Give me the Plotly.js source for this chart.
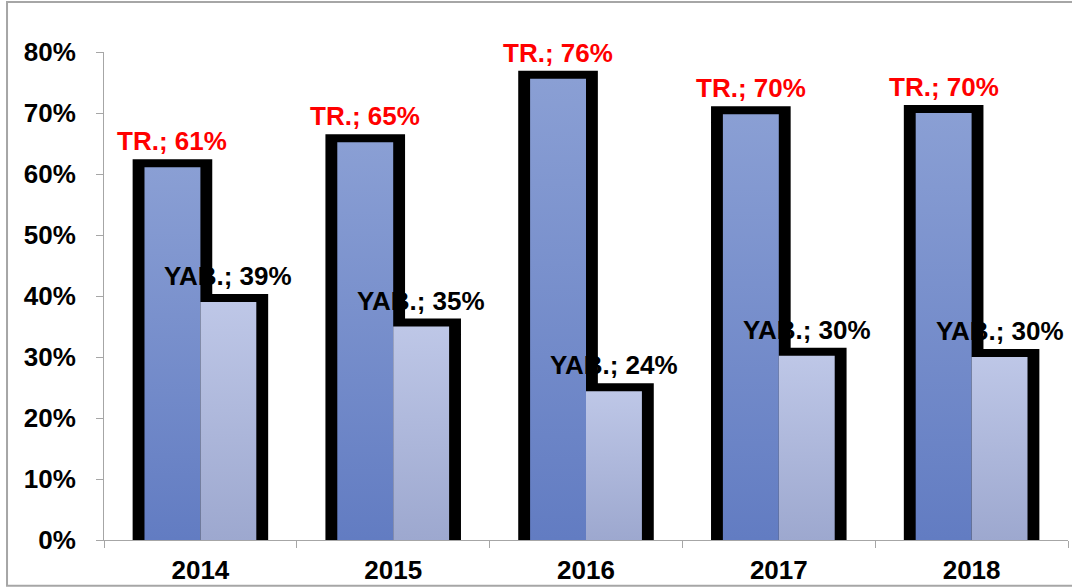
<!DOCTYPE html>
<html>
<head>
<meta charset="utf-8">
<script src="https://cdn.plot.ly/plotly-3.0.1.min.js"></script>
<style>
html,body{margin:0;padding:0;background:#fff;}
#chart{width:1072px;height:587px;}
</style>
</head>
<body>
<div id="chart"></div>
<script>
// ---- data ----
var years = ["2014", "2015", "2016", "2017", "2018"];
var trValues = [0.611, 0.652, 0.756, 0.698, 0.70];
var yabValues = [0.39, 0.35, 0.244, 0.302, 0.30];
var trName = "TR.";
var yabName = "YAB.";
var yTickVals = [0, 0.1, 0.2, 0.3, 0.4, 0.5, 0.6, 0.7, 0.8];

var FONT = "Liberation Sans, Arial, sans-serif";
var barW = 0.29;
var outlineExtra = 0.02;

function pct(v) { return Math.round(v * 100) + "%"; }

var traces = [
  { // TR outline
    type: "bar", x: years, y: trValues, name: trName + " outline",
    offset: -barW - outlineExtra, width: barW + 2 * outlineExtra,
    marker: { color: "#000", line: { color: "#000", width: 16 } },
    hoverinfo: "skip", showlegend: false
  },
  { // YAB outline
    type: "bar", x: years, y: yabValues, name: yabName + " outline",
    offset: -outlineExtra, width: barW + 2 * outlineExtra,
    marker: { color: "#000", line: { color: "#000", width: 16 } },
    hoverinfo: "skip", showlegend: false
  },
  { // TR fill
    type: "bar", x: years, y: trValues, name: trName,
    offset: -barW, width: barW,
    marker: { color: "#7A91CD", line: { width: 0 } },
    hoverinfo: "skip", showlegend: false
  },
  { // YAB fill
    type: "bar", x: years, y: yabValues, name: yabName,
    offset: 0, width: barW,
    marker: { color: "#AEB8DC", line: { width: 0 } },
    hoverinfo: "skip", showlegend: false
  }
];

var annotations = [];
years.forEach(function (yr, i) {
  annotations.push({
    x: i - barW / 2, y: trValues[i], xref: "x", yref: "y",
    text: trName + "; " + pct(trValues[i]),
    showarrow: false, yanchor: "bottom", xanchor: "center", yshift: 9,
    font: { family: FONT, size: 26, color: "#FF0000", weight: "bold" }
  });
  annotations.push({
    x: i + barW / 2, y: yabValues[i], xref: "x", yref: "y",
    text: yabName + "; " + pct(yabValues[i]),
    showarrow: false, yanchor: "bottom", xanchor: "center", yshift: 9,
    font: { family: FONT, size: 26, color: "#000000", weight: "bold" }
  });
});

var layout = {
  width: 1072, height: 587,
  margin: { l: 104, r: 4, t: 52, b: 47 },
  paper_bgcolor: "#fff", plot_bgcolor: "#fff",
  barmode: "overlay",
  showlegend: false,
  font: { family: FONT },
  xaxis: {
    type: "category", range: [-0.5, 4.5],
    showline: true, linecolor: "#A6A6A6", linewidth: 1,
    ticks: "outside", tickson: "boundaries", ticklen: 7, tickcolor: "#A6A6A6",
    showgrid: false, zeroline: false,
    ticklabelstandoff: 7,
    tickfont: { family: FONT, size: 26, color: "#000", weight: "bold" }
  },
  yaxis: {
    range: [0, 0.8], tickvals: yTickVals, tickformat: ".0%",
    showline: true, linecolor: "#A6A6A6", linewidth: 1,
    ticks: "outside", ticklen: 7, tickcolor: "#A6A6A6",
    showgrid: false, zeroline: false,
    ticklabelstandoff: 15,
    tickfont: { family: FONT, size: 26, color: "#000", weight: "bold" }
  },
  annotations: annotations,
  shapes: [{
    type: "rect", xref: "paper", yref: "paper",
    x0: -0.1006, x1: 1.01, y0: -0.094, y1: 1.1025,
    line: { color: "#A6A6A6", width: 2 }, layer: "below"
  }]
};

Plotly.newPlot("chart", traces, layout, { staticPlot: true, displayModeBar: false }).then(function (gd) {
  var svgNS = "http://www.w3.org/2000/svg";
  var svg = gd.querySelector(".main-svg");
  var defs = svg.querySelector("defs");
  function addGrad(id, top, bottom) {
    var g = document.createElementNS(svgNS, "linearGradient");
    g.setAttribute("id", id);
    g.setAttribute("x1", "0"); g.setAttribute("y1", "0");
    g.setAttribute("x2", "0"); g.setAttribute("y2", "1");
    var s1 = document.createElementNS(svgNS, "stop");
    s1.setAttribute("offset", "0"); s1.setAttribute("stop-color", top);
    var s2 = document.createElementNS(svgNS, "stop");
    s2.setAttribute("offset", "1"); s2.setAttribute("stop-color", bottom);
    g.appendChild(s1); g.appendChild(s2);
    defs.appendChild(g);
  }
  addGrad("gradTR", "#8A9FD4", "#627CC2");
  addGrad("gradYAB", "#BEC7E7", "#9DA8CF");
  var barGroups = gd.querySelectorAll(".barlayer .trace.bars");
  var grads = [null, null, "gradTR", "gradYAB"];
  barGroups.forEach(function (grp, idx) {
    if (!grads[idx]) return;
    grp.querySelectorAll("path").forEach(function (p) {
      p.style.fill = "url(#" + grads[idx] + ")";
    });
  });
});
</script>
</body>
</html>
